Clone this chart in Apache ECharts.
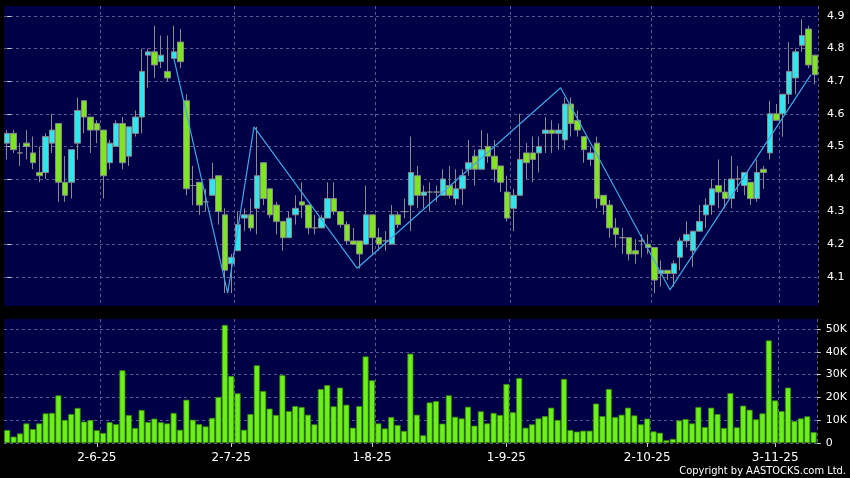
<!DOCTYPE html>
<html>
<head>
<meta charset="utf-8">
<script src="https://cdn.jsdelivr.net/npm/echarts@6/dist/echarts.min.js"></script>
<style>
html,body{margin:0;padding:0;background:#000;}
#c{width:850px;height:478px;}
</style>
</head>
<body>
<div id="c"></div>
<script>
// Trading dates (D-M-YY)
const dates = [
'13-5-25','14-5-25','15-5-25','16-5-25','19-5-25','20-5-25','21-5-25','22-5-25','23-5-25','26-5-25','27-5-25','28-5-25','29-5-25','30-5-25',
'2-6-25','3-6-25','4-6-25','5-6-25','6-6-25','9-6-25','10-6-25','11-6-25','12-6-25','13-6-25','16-6-25','17-6-25','18-6-25','19-6-25','20-6-25','23-6-25','24-6-25','25-6-25','26-6-25','27-6-25','30-6-25',
'2-7-25','3-7-25','4-7-25','7-7-25','8-7-25','9-7-25','10-7-25','11-7-25','14-7-25','15-7-25','16-7-25','17-7-25','18-7-25','21-7-25','22-7-25','23-7-25','24-7-25','25-7-25','28-7-25','29-7-25','30-7-25','31-7-25',
'1-8-25','4-8-25','5-8-25','6-8-25','7-8-25','8-8-25','11-8-25','12-8-25','13-8-25','14-8-25','15-8-25','18-8-25','19-8-25','20-8-25','21-8-25','22-8-25','25-8-25','26-8-25','27-8-25','28-8-25','29-8-25',
'1-9-25','2-9-25','3-9-25','4-9-25','5-9-25','8-9-25','9-9-25','10-9-25','11-9-25','12-9-25','15-9-25','16-9-25','17-9-25','18-9-25','19-9-25','22-9-25','23-9-25','24-9-25','25-9-25','26-9-25','29-9-25','30-9-25',
'2-10-25','3-10-25','6-10-25','8-10-25','9-10-25','10-10-25','13-10-25','14-10-25','15-10-25','16-10-25','17-10-25','20-10-25','21-10-25','22-10-25','23-10-25','24-10-25','27-10-25','28-10-25','30-10-25','31-10-25',
'3-11-25','4-11-25','5-11-25','6-11-25','7-11-25','10-11-25','11-11-25'
];
const labelDates = ['2-6-25','2-7-25','1-8-25','1-9-25','2-10-25','3-11-25'];

const open = [4.51,4.54,4.48,4.51,4.48,4.42,4.42,4.51,4.57,4.39,4.39,4.51,4.64,4.59,4.57,4.55,4.45,4.50,4.57,4.47,4.54,4.59,4.78,4.79,4.76,4.73,4.77,4.82,4.64,4.38,4.39,4.33,4.35,4.41,4.29,4.14,4.18,4.28,4.29,4.31,4.45,4.37,4.32,4.27,4.22,4.29,4.33,4.32,4.25,4.25,4.28,4.34,4.30,4.26,4.21,4.21,4.20,4.29,4.22,4.21,4.20,4.29,4.30,4.32,4.41,4.35,4.36,4.36,4.35,4.38,4.34,4.37,4.43,4.47,4.43,4.50,4.47,4.44,4.36,4.31,4.35,4.48,4.48,4.48,4.54,4.55,4.54,4.52,4.63,4.58,4.53,4.46,4.51,4.35,4.32,4.25,4.22,4.22,4.18,4.21,4.20,4.19,4.11,4.12,4.11,4.16,4.21,4.18,4.24,4.29,4.32,4.38,4.36,4.34,4.40,4.38,4.39,4.34,4.43,4.48,4.60,4.60,4.66,4.71,4.81,4.86,4.78];
const close = [4.54,4.49,4.48,4.50,4.45,4.41,4.53,4.55,4.39,4.35,4.49,4.61,4.59,4.55,4.55,4.41,4.51,4.57,4.45,4.56,4.59,4.73,4.79,4.75,4.78,4.71,4.79,4.76,4.37,4.38,4.32,4.33,4.40,4.30,4.12,4.16,4.26,4.29,4.25,4.41,4.34,4.29,4.27,4.22,4.28,4.31,4.32,4.25,4.25,4.28,4.34,4.30,4.26,4.21,4.20,4.17,4.29,4.22,4.20,4.21,4.29,4.26,4.30,4.42,4.35,4.36,4.36,4.36,4.40,4.35,4.37,4.41,4.45,4.43,4.49,4.47,4.43,4.39,4.28,4.35,4.46,4.45,4.46,4.50,4.55,4.54,4.55,4.63,4.57,4.55,4.49,4.48,4.34,4.32,4.25,4.23,4.22,4.17,4.17,4.21,4.19,4.09,4.12,4.11,4.14,4.21,4.23,4.24,4.27,4.32,4.37,4.36,4.34,4.40,4.40,4.42,4.34,4.42,4.42,4.60,4.58,4.66,4.73,4.79,4.84,4.75,4.72];
const low = [4.46,4.48,4.44,4.46,4.43,4.39,4.40,4.48,4.33,4.33,4.34,4.46,4.54,4.48,4.51,4.34,4.43,4.50,4.43,4.44,4.53,4.54,4.68,4.71,4.74,4.70,4.77,4.74,4.35,4.32,4.29,4.30,4.35,4.26,4.05,4.05,4.18,4.24,4.24,4.23,4.32,4.28,4.23,4.18,4.22,4.26,4.28,4.23,4.23,4.25,4.28,4.29,4.25,4.20,4.20,4.125,4.20,4.17,4.18,4.18,4.20,4.25,4.28,4.24,4.31,4.31,4.30,4.33,4.35,4.34,4.32,4.32,4.41,4.38,4.43,4.45,4.39,4.36,4.27,4.24,4.35,4.40,4.39,4.42,4.48,4.48,4.49,4.49,4.53,4.53,4.45,4.44,4.31,4.29,4.22,4.19,4.17,4.15,4.14,4.16,4.17,4.05,4.07,4.09,4.07,4.12,4.19,4.13,4.24,4.25,4.29,4.31,4.31,4.31,4.36,4.35,4.32,4.33,4.37,4.46,4.58,4.53,4.63,4.66,4.79,4.74,4.69];
const high = [4.55,4.55,4.51,4.55,4.53,4.50,4.54,4.60,4.57,4.47,4.49,4.65,4.64,4.59,4.58,4.55,4.52,4.58,4.59,4.56,4.61,4.80,4.80,4.87,4.84,4.84,4.87,4.86,4.66,4.44,4.39,4.37,4.45,4.41,4.31,4.17,4.30,4.31,4.34,4.56,4.45,4.37,4.33,4.27,4.30,4.35,4.39,4.32,4.29,4.29,4.39,4.39,4.30,4.27,4.25,4.21,4.38,4.29,4.25,4.24,4.32,4.30,4.34,4.53,4.44,4.38,4.39,4.38,4.43,4.44,4.43,4.43,4.52,4.49,4.55,4.54,4.52,4.44,4.41,4.37,4.60,4.51,4.53,4.53,4.59,4.58,4.57,4.65,4.65,4.61,4.53,4.50,4.53,4.35,4.335,4.28,4.25,4.22,4.215,4.23,4.23,4.19,4.15,4.12,4.15,4.22,4.27,4.24,4.32,4.34,4.40,4.46,4.40,4.47,4.44,4.42,4.39,4.46,4.44,4.64,4.63,4.66,4.82,4.80,4.89,4.87,4.78];
const volume = [5700,2800,4200,8600,6100,8600,13000,13200,20900,10100,12700,15400,9400,10100,5600,4400,9200,8300,31900,12300,6600,14500,9200,10700,9100,8600,13200,5800,19000,10200,8300,7300,11000,20200,51800,29400,21800,5800,12700,34100,22800,15100,12300,29800,14000,16200,15800,12400,8200,23700,25400,16100,24300,16800,6700,16200,38000,27500,8600,6400,11400,7900,5300,39200,12400,3400,17800,18400,8500,20900,11500,10800,15900,7600,13900,8600,13200,12300,25900,13500,28500,6700,8200,10800,11800,15500,10100,28100,5700,5000,5400,5400,17300,11800,23700,11400,12400,15500,12100,8200,10700,5100,4500,1200,1800,9900,10500,8600,15800,7000,15500,12700,6600,21900,6900,16400,14600,10400,13000,45000,18700,14000,24300,9600,10800,11700,4800];

// Zigzag turning points: position (trading-day index) and price
const zigIdx = [26, 34.4, 38.5, 54.6, 86.35, 103.4, 125.4];
const zigPrice = [4.77, 4.05, 4.56, 4.126, 4.68, 4.06, 4.72];

const priceTicks = [4.1,4.2,4.3,4.4,4.5,4.6,4.7,4.8,4.9];
const volTicks = [0,10000,20000,30000,40000,50000];

const candleData = dates.map((d,i)=>[open[i], close[i], low[i], high[i]]);
const zigData = zigIdx.map((x,i)=>[x, zigPrice[i]]);
const labelSet = new Set(labelDates.map(d=>dates.indexOf(d)));
const isLabel = (idx)=>labelSet.has(idx);
const isSplit = (idx)=>labelSet.has(idx-1);

const FONT = 'DejaVu Sans';
const gridLine = {show:true, interval:isSplit, lineStyle:{color:'#5a5a8e', type:[3,3], width:1}};
const hLine = {show:true, lineStyle:{color:'#5a5a8e', type:[3,3], width:1}};

const chart = echarts.init(document.getElementById('c'), null, {renderer:'canvas'});
chart.setOption({
  backgroundColor:'#000000',
  animation:false,
  textStyle:{fontFamily:FONT},
  grid:[
    {left:4, top:6, width:814, height:300, show:true, backgroundColor:'#000046', borderWidth:0},
    {left:4, top:319, width:814, height:124, show:true, backgroundColor:'#000046', borderWidth:0}
  ],
  xAxis:[
    {type:'category', gridIndex:0, data:dates, boundaryGap:true,
     axisLine:{show:false}, axisTick:{show:false}, axisLabel:{show:false}, splitLine:gridLine},
    {type:'category', gridIndex:1, data:dates, boundaryGap:true,
     axisLine:{show:false},
     axisTick:{show:true, alignWithLabel:true, interval:isLabel, length:4, lineStyle:{color:'#cccccc'}},
     axisLabel:{show:true, interval:isLabel, color:'#ffffff', fontSize:12, fontFamily:FONT, margin:9},
     splitLine:gridLine},
    {type:'value', gridIndex:0, min:-0.5, max:dates.length-0.5, show:false}
  ],
  yAxis:[
    {type:'value', gridIndex:0, position:'right', min:4.0104, max:4.9307, scale:true,
     axisLine:{show:false},
     axisTick:{show:true, length:4, lineStyle:{color:'#cccccc'}, customValues:priceTicks},
     axisLabel:{show:true, color:'#ffffff', fontSize:11, fontFamily:FONT, margin:9, customValues:priceTicks,
       formatter:(v)=>v.toFixed(1)},
     splitLine:hLine},
    {type:'value', gridIndex:1, position:'right', min:0, max:54400,
     axisLine:{show:false},
     axisTick:{show:true, length:4, lineStyle:{color:'#cccccc'}, customValues:volTicks},
     axisLabel:{show:true, color:'#ffffff', fontSize:11, fontFamily:FONT, margin:9, customValues:volTicks,
       formatter:(v)=> v===0 ? '0' : Math.round(v/1000)+'K'},
     splitLine:hLine}
  ],
  series:[
    {type:'candlestick', xAxisIndex:0, yAxisIndex:0, data:candleData, barWidth:6,
     itemStyle:{color:'#2ee6f0', color0:'#7ee61e', borderColor:'#8a8a8a', borderColor0:'#8a8a8a', borderWidth:1}},
    {type:'line', xAxisIndex:2, yAxisIndex:0, data:zigData, symbol:'none',
     lineStyle:{color:'#3fa6e6', width:1.2}, z:5},
    {type:'bar', xAxisIndex:1, yAxisIndex:1, data:volume, barWidth:6,
     itemStyle:{color:'#6cf01a', borderColor:'#3b8a0a', borderWidth:0.8}}
  ],
  graphic:[
    {type:'text', right:4, bottom:1, style:{text:'Copyright by AASTOCKS.com Ltd.', fill:'#ffffff', font:'11px "DejaVu Sans Condensed", "Liberation Sans Narrow", "DejaVu Sans"'}}
  ]
});
</script>
</body>
</html>
